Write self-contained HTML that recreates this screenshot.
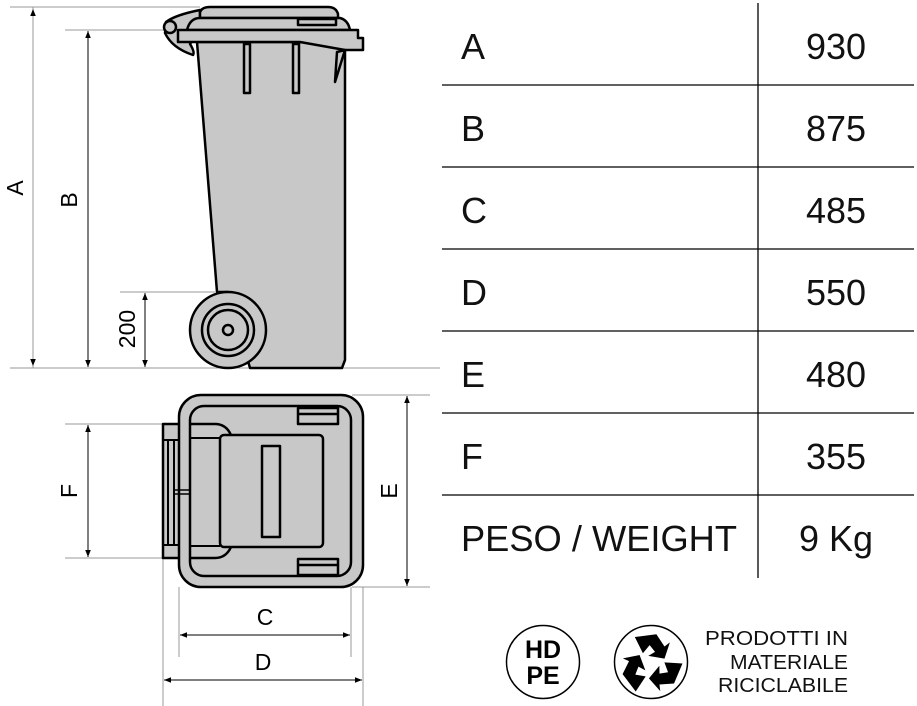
<!DOCTYPE html>
<html><head><meta charset="utf-8"><style>
html,body{margin:0;padding:0;background:#fff;}
svg{display:block;}
</style></head><body>
<svg width="917" height="706" viewBox="0 0 917 706" xmlns="http://www.w3.org/2000/svg" font-family="'Liberation Sans',sans-serif">
<defs>
<marker id="ar" viewBox="0 0 10 10" refX="10" refY="5" markerWidth="7" markerHeight="7" orient="auto-start-reverse" markerUnits="userSpaceOnUse"><path d="M0,1 L10,5 L0,9 z" fill="#000"/></marker>
</defs>
<g stroke="#999" stroke-width="1" fill="none">
<line x1="10" y1="7" x2="200" y2="7"/>
<line x1="65" y1="30" x2="170" y2="30"/>
<line x1="120" y1="292" x2="215" y2="292"/>
<line x1="10" y1="368" x2="440" y2="368"/>
<line x1="33" y1="7" x2="33" y2="368"/>
<line x1="352" y1="395" x2="430" y2="395"/>
<line x1="352" y1="587" x2="430" y2="587"/>
<line x1="65" y1="424" x2="163" y2="424"/>
<line x1="65" y1="558" x2="163" y2="558"/>
<line x1="179" y1="587" x2="179" y2="657"/>
<line x1="351" y1="587" x2="351" y2="657"/>
<line x1="163" y1="558" x2="163" y2="706"/>
<line x1="363" y1="587" x2="363" y2="706"/>
</g>
<g stroke="#000" stroke-width="1">
<line x1="33" y1="9" x2="33" y2="366" stroke="#999" marker-start="url(#ar)" marker-end="url(#ar)"/>
<line x1="88" y1="31" x2="88" y2="367" marker-start="url(#ar)" marker-end="url(#ar)"/>
<line x1="145" y1="293" x2="145" y2="367" marker-start="url(#ar)" marker-end="url(#ar)"/>
<line x1="407" y1="396" x2="407" y2="586" marker-start="url(#ar)" marker-end="url(#ar)"/>
<line x1="88" y1="425" x2="88" y2="557" marker-start="url(#ar)" marker-end="url(#ar)"/>
<line x1="180" y1="635" x2="350" y2="635" marker-start="url(#ar)" marker-end="url(#ar)"/>
<line x1="164" y1="680" x2="362" y2="680" marker-start="url(#ar)" marker-end="url(#ar)"/>
</g>
<g font-size="23" fill="#000">
<text transform="translate(23,188) rotate(-90)" text-anchor="middle">A</text>
<text transform="translate(77,200) rotate(-90)" text-anchor="middle">B</text>
<text transform="translate(135,329) rotate(-90)" text-anchor="middle">200</text>
<text transform="translate(77,491) rotate(-90)" text-anchor="middle">F</text>
<text transform="translate(397,491) rotate(-90)" text-anchor="middle">E</text>
<text x="265" y="625" text-anchor="middle">C</text>
<text x="263" y="670" text-anchor="middle">D</text>
</g>
<g stroke="#000" stroke-width="2.5" fill="#c8c8c8" stroke-linejoin="round">
<path d="M197,42 L217,292 L228,292 L250,368 L342,368 L345,360 L345,42 Z"/>
<path d="M166,22 Q175,15 200,10 L200,30 L190,44 Q195,52 193,55 Q172,48 165,33 Z"/>
<path d="M200,12 Q202,7 210,7 L328,7 Q336,7 338,14 L338,18 L200,18 Z"/>
<path d="M187,30 Q190,18 200,18 L340,18 Q348,20 350,30 Z"/>
<rect x="298" y="19" width="38" height="6"/>
<path d="M178,30 L358,30 L358,38 L363,38 L363,50 L345,50 L300,42 L178,42 Z"/>
<path d="M345,50 L335,82 L337,52 Z"/>
<rect x="244" y="44" width="6" height="49"/>
<rect x="293" y="44" width="6" height="49"/>
<circle cx="170" cy="27" r="6"/>
<circle cx="228" cy="330" r="38"/>
<circle cx="228" cy="330" r="26" fill="none"/>
<circle cx="228" cy="330" r="20" fill="none"/>
<circle cx="228" cy="330" r="5" fill="#c8c8c8"/>
</g>
<g stroke="#000" stroke-width="2.5" fill="#c8c8c8" stroke-linejoin="round">
<rect x="163" y="424" width="17" height="134"/>
<line x1="168" y1="440" x2="168" y2="545" stroke-width="2"/>
<line x1="174" y1="440" x2="174" y2="545" stroke-width="2"/>
<line x1="163" y1="440" x2="180" y2="440" stroke-width="2"/>
<line x1="163" y1="545" x2="180" y2="545" stroke-width="2"/>
<rect x="179" y="395" width="184" height="192" rx="22"/>
<rect x="190" y="406" width="161" height="170" rx="14"/>
<path d="M191,424 L215,424 Q226,424 231,435 L231,547 Q226,558 215,558 L191,558" fill="none"/>
<line x1="190" y1="438" x2="220" y2="438" stroke-width="2"/>
<line x1="190" y1="546" x2="220" y2="546" stroke-width="2"/>
<rect x="220" y="435" width="103" height="112" rx="4"/>
<rect x="262" y="446" width="18" height="91"/>
<rect x="298" y="408" width="40" height="16"/>
<line x1="298" y1="414" x2="338" y2="414"/>
<rect x="298" y="559" width="40" height="16"/>
<line x1="298" y1="565" x2="338" y2="565"/>
<line x1="175" y1="490" x2="190" y2="490" stroke-width="1.5"/>
<line x1="175" y1="494" x2="190" y2="494" stroke-width="1.5"/>
</g>
<g stroke="#000" stroke-width="1.3">
<line x1="758" y1="3" x2="758" y2="578"/>
<line x1="442" y1="85" x2="914" y2="85"/>
<line x1="442" y1="167" x2="914" y2="167"/>
<line x1="442" y1="249" x2="914" y2="249"/>
<line x1="442" y1="331" x2="914" y2="331"/>
<line x1="442" y1="413" x2="914" y2="413"/>
<line x1="442" y1="495" x2="914" y2="495"/>
</g>
<g font-size="36" fill="#111">
<text x="461" y="59">A</text>
<text x="461" y="141">B</text>
<text x="461" y="223">C</text>
<text x="461" y="305">D</text>
<text x="461" y="387">E</text>
<text x="461" y="469">F</text>
<text x="461" y="551" textLength="276" lengthAdjust="spacingAndGlyphs">PESO / WEIGHT</text>
<text x="836" y="59" text-anchor="middle">930</text>
<text x="836" y="141" text-anchor="middle">875</text>
<text x="836" y="223" text-anchor="middle">485</text>
<text x="836" y="305" text-anchor="middle">550</text>
<text x="836" y="387" text-anchor="middle">480</text>
<text x="836" y="469" text-anchor="middle">355</text>
<text x="836" y="551" text-anchor="middle">9 Kg</text>
</g>
<circle cx="543" cy="662" r="36.5" fill="none" stroke="#000" stroke-width="1.5"/>
<text x="543" y="658" text-anchor="middle" font-size="25" font-weight="bold">HD</text>
<text x="543" y="684" text-anchor="middle" font-size="25" font-weight="bold">PE</text>
<circle cx="651" cy="662" r="36.5" fill="none" stroke="#000" stroke-width="1.5"/>
<g transform="translate(651,664) scale(1.35)" fill="#000">
<g id="arr"><path d="M-12,-20 L4,-22 L10,-13 L14,-16 L10,-4 L-2,-6 L3,-9 L-1,-14 L-6,-8 Z"/></g>
<use href="#arr" transform="rotate(120)"/>
<use href="#arr" transform="rotate(240)"/>
</g>
<g font-size="20" fill="#111" text-anchor="end">
<text x="848" y="645" textLength="143" lengthAdjust="spacingAndGlyphs">PRODOTTI IN</text>
<text x="848" y="669" textLength="118" lengthAdjust="spacingAndGlyphs">MATERIALE</text>
<text x="848" y="692" textLength="130" lengthAdjust="spacingAndGlyphs">RICICLABILE</text>
</g>
</svg>
</body></html>
